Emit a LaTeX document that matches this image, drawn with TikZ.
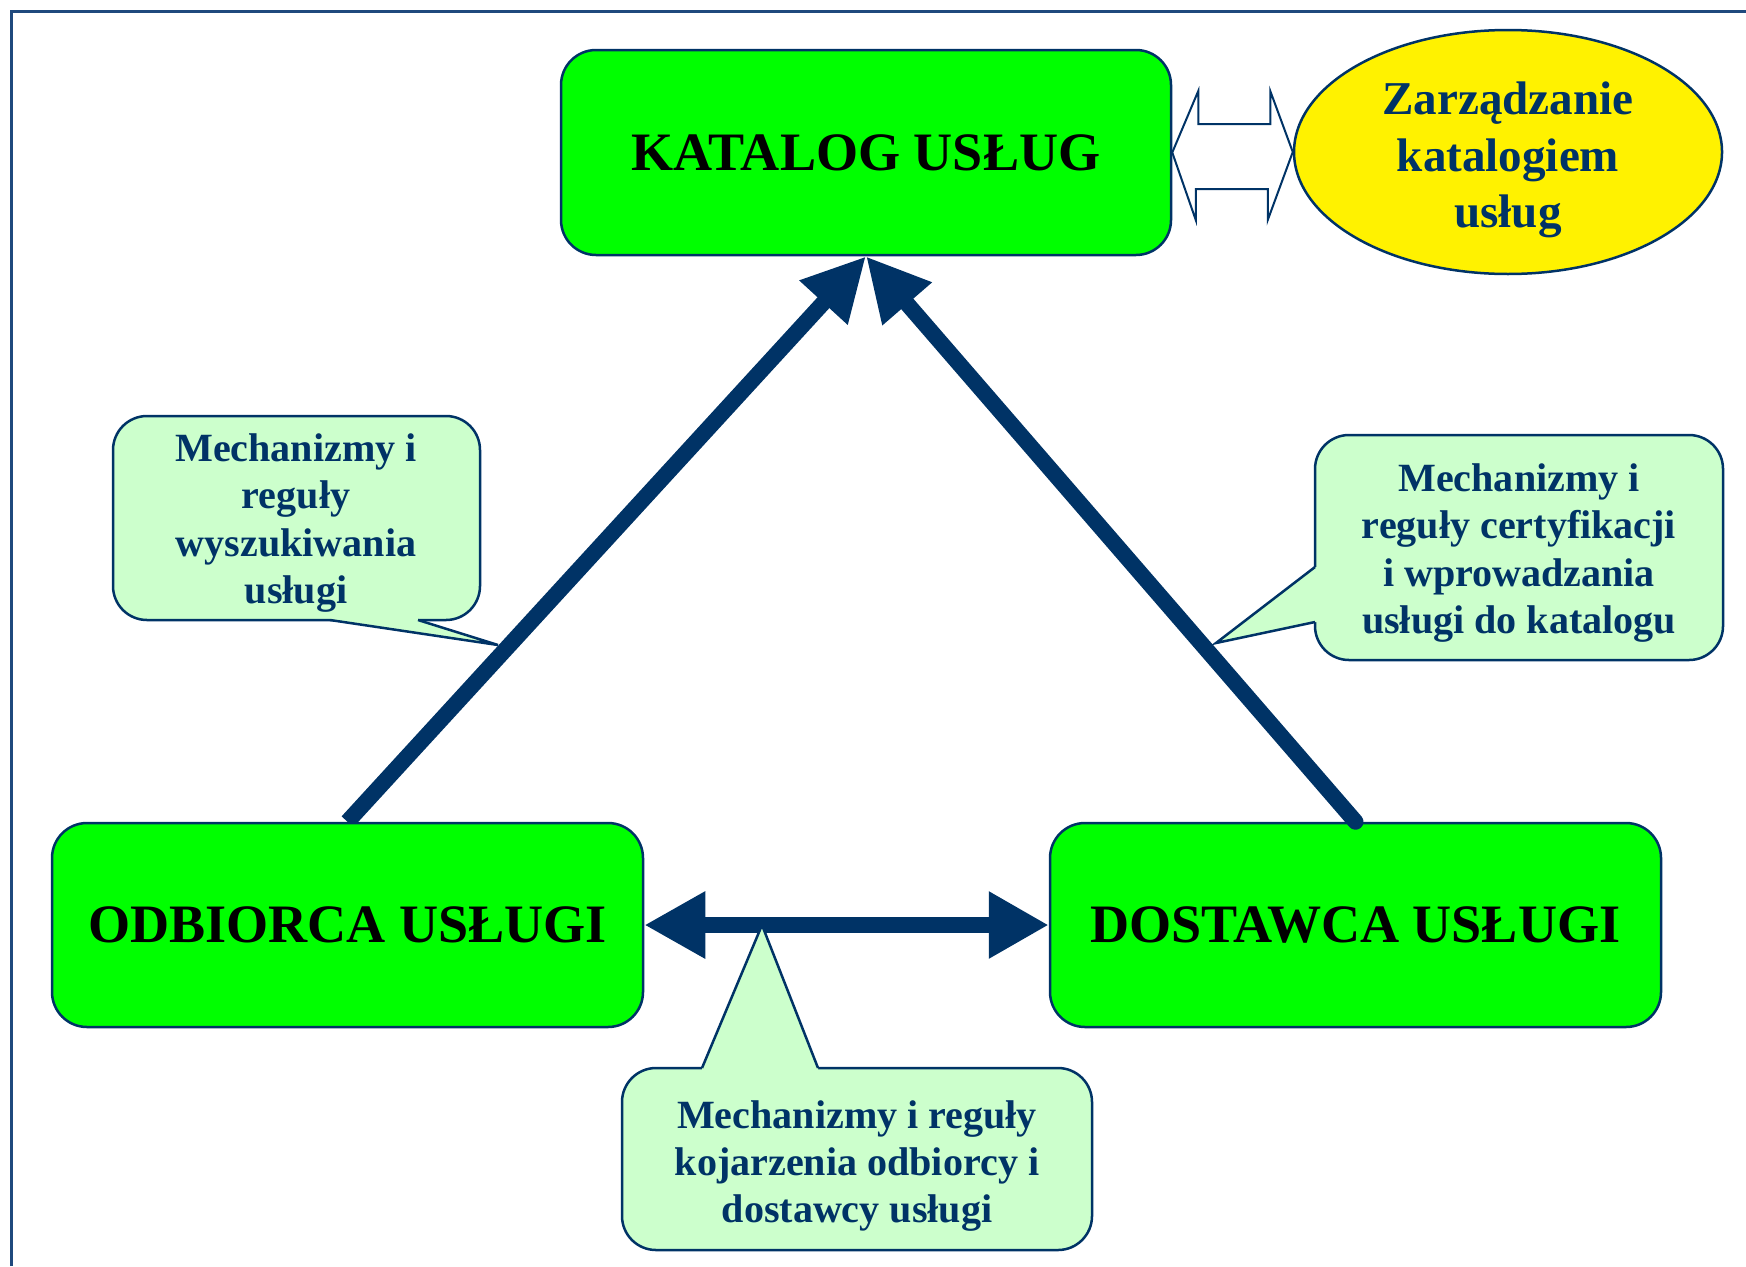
\documentclass[tikz,border=0pt]{standalone}
\usepackage{fontspec}
\setmainfont{Liberation Serif}
\usetikzlibrary{shapes.geometric,arrows.meta,calc}
\definecolor{navy}{RGB}{0,51,102}
\definecolor{framec}{RGB}{31,73,125}
\definecolor{boxgreen}{RGB}{0,255,0}
\definecolor{callfill}{RGB}{204,255,204}
\pgfdeclarelayer{bg}
\pgfsetlayers{bg,main}
\begin{document}
\begin{tikzpicture}[x=0.1mm,y=-0.1mm,
  mainbox/.style={draw=navy, line width=0.25mm, fill=boxgreen, rounded corners=3.5mm, inner sep=0pt,
    font=\fontsize{15.4}{18}\selectfont\bfseries, text=black},
  callbox/.style={draw=navy, line width=0.25mm, fill=callfill, rounded corners=3.4mm},
  callside/.style={draw=navy, line width=0.25mm, line join=miter},
  calltext/.style={align=center, text=navy, font=\fontsize{11.4}{13.4}\selectfont\bfseries, inner sep=0pt},
  bigarrow/.style={draw=navy, line width=1.6mm},
  bighead/.style={-{Triangle[length=6.3mm,width=6.1mm]}},
]
\useasboundingbox (0,0) rectangle (1746,1266);
\draw[framec, line width=0.3mm] (11,1266) -- (11,11) -- (1746,11);

% main boxes
\node[mainbox, minimum width=61mm, minimum height=20.5mm] (kat) at (866,152.5) {KATALOG USŁUG};
\node[mainbox, minimum width=59.1mm, minimum height=20.4mm] (odb) at (347.5,925) {ODBIORCA USŁUGI};
\node[mainbox, minimum width=61.1mm, minimum height=20.4mm] (dost) at (1355.5,925) {DOSTAWCA USŁUGI};

% ellipse
\node[ellipse, draw=navy, line width=0.25mm, fill=yellow, minimum width=42.8mm, minimum height=24.4mm, inner sep=0pt] (ell) at (1508,152) {};
\node[text=navy, align=center, inner sep=0pt, font=\fontsize{13.4}{16.1}\selectfont\bfseries] (elltxt) at (1508,160) {Zarządzanie\\katalogiem\\usług};

% hollow double arrow
\draw[navy, line width=0.2mm, fill=white, line join=miter] (kat.east) -- ++(26,-61.5) -- ++(0,33) -- ++(72,0) -- ++(0,-33)
  -- (ell.west) -- ++(-25,68) -- ++(0,-31) -- ++(-72,0) -- ++(0,31) -- cycle;

% thick arrows
\begin{pgfonlayer}{bg}
\draw[bigarrow, bighead] (odb.north) -- (kat.south);
\end{pgfonlayer}
\draw[bigarrow, bighead, line cap=round] (dost.north) -- (kat.south);
\draw[bigarrow, {Triangle[length=6.1mm,width=6.3mm]}-{Triangle[length=6.0mm,width=6.3mm]}] (odb.east) -- (dost.west);

% left callout
\draw[callbox] (113,416) rectangle (480,620);
\coordinate (tipL) at (498,645);
\fill[callfill] (330,610) -- (330,620) -- (tipL) -- (418,620) -- (418,610) -- cycle;
\draw[callside] (330,620) -- (tipL) -- (418,620);
\node[calltext] (t1) at (296,523) {Mechanizmy i\\reguły\\wyszukiwania\\usługi};

% right callout
\draw[callbox] (1315,435) rectangle (1723,660);
\coordinate (tipR) at (1216,643);
\fill[callfill] (1325,567) -- (1315,567) -- (tipR) -- (1315,622) -- (1325,622) -- cycle;
\draw[callside] (1315,567) -- (tipR) -- (1315,622);
\node[calltext] (t2) at (1519,553) {Mechanizmy i\\reguły certyfikacji\\i wprowadzania\\usługi do katalogu};

% bottom callout
\draw[callbox] (622,1068) rectangle (1092,1250);
\coordinate (tipB) at (762,925);
\fill[callfill] (702,1078) -- (702,1068) -- (tipB) -- (818,1068) -- (818,1078) -- cycle;
\draw[callside] (702,1068) -- (tipB) -- (818,1068);
\node[calltext] (t3) at (857,1166) {Mechanizmy i reguły\\kojarzenia odbiorcy i\\dostawcy usługi};
\end{tikzpicture}
\end{document}
